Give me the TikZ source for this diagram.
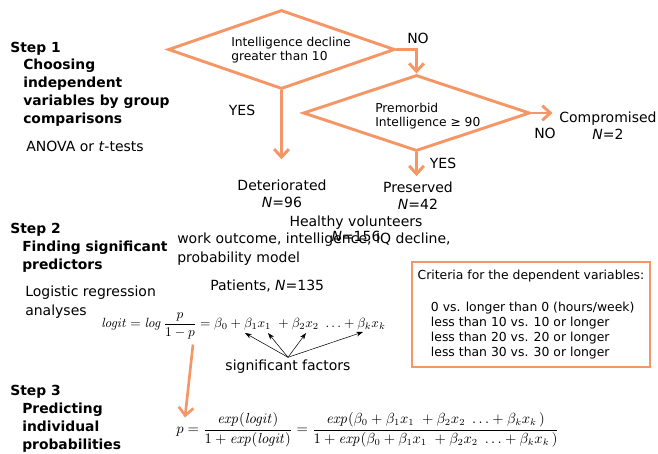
\documentclass[tikz,border=0pt]{standalone}
\usepackage{amsmath}
\usepackage[no-math]{fontspec}
\setmainfont{DejaVu Sans}
\usetikzlibrary{shapes.geometric, arrows.meta, calc}
\definecolor{flow}{RGB}{244,150,102}
\tikzstyle{decision} = [diamond, draw=flow, line width=2.2pt, inner sep=0pt, minimum width=170pt]
\tikzstyle{arrow} = [draw=flow, line width=2.2pt, -{Straight Barb[length=6pt,width=11pt]}]
\tikzstyle{factor} = [thin, -{Stealth[length=5pt,width=3.5pt]}]
\tikzstyle{steptitle} = [anchor=west, inner sep=0pt, font=\bfseries\fontsize{10.4}{13.5}\selectfont]
\tikzstyle{stepbody} = [anchor=west, inner sep=0pt, align=left, font=\bfseries\fontsize{10.4}{13.5}\selectfont]
\tikzstyle{txt} = [inner sep=0pt, align=center, font=\fontsize{10.5}{12.75}\selectfont]
\tikzstyle{dtext} = [anchor=west, inner sep=0pt, align=left, font=\fontsize{9.2}{11}\selectfont]
\tikzstyle{critbox} = [draw=flow, line width=1.9pt, minimum width=178.5pt, minimum height=78.75pt, align=left, inner sep=0pt, font=\fontsize{9.3}{11.25}\selectfont]

\begin{document}
\begin{tikzpicture}[x=0.75pt, y=-0.75pt]
    \useasboundingbox (0,0) rectangle (658,454);
    % step titles and descriptions
    \node (s1) [steptitle] at (10,49) {Step 1};
    \node (s1body) [stepbody] at (23,93) {Choosing\\independent\\variables by group\\comparisons};
    \node (anova) [txt, anchor=west] at (26,146) {ANOVA or \textit{t}-tests};
    \node (s2) [steptitle] at (10,230) {Step 2};
    \node (s2body) [stepbody] at (22,257) {Finding significant\\predictors};
    \node (logreg) [txt, anchor=west, align=left, font=\fontsize{10.5}{14.25}\selectfont] at (25,302.5) {Logistic regression\\analyses};
    \node (s3) [steptitle] at (10,392) {Step 3};
    \node (s3body) [stepbody] at (22,428) {Predicting\\individual\\probabilities};

    % decision tree
    \node (dec1) [decision, minimum height=59.25pt] at (281.5,49.5) {};
    \node (dec1txt) [dtext] at (231,50) {Intelligence decline\\greater than 10};
    \node (dec2) [decision, minimum height=57pt] at (416.5,113) {};
    \node (dec2txt) [dtext] at (375,116) {Premorbid\\Intelligence ≥ 90};
    \node (det) [txt] at (282,193.5) {Deteriorated\\\textit{N}=96};
    \node (pres) [txt] at (418,195.5) {Preserved\\\textit{N}=42};
    \node (comp) [txt] at (608,125.5) {Compromised\\\textit{N}=2};
    \node (yes1) [txt] at (242,110) {YES};
    \node (no1) [txt] at (418,38) {NO};
    \node (yes2) [txt] at (443,163) {YES};
    \node (no2) [txt] at (545,133) {NO};
    \draw [arrow] (dec1.east) -| (dec2.north);
    \draw [arrow, shorten >=15pt] (dec1.south) -- (dec1.south |- det.north);
    \draw [arrow, shorten >=4pt] (dec2.south) -- (dec2.south |- pres.north);
    \draw [arrow, shorten >=5pt] (dec2.east) -- (dec2.east -| comp.west);

    % groups and model
    \node (healthy) [txt, font=\fontsize{10.5}{9.75}\selectfont] at (356,228.5) {Healthy volunteers\\\textit{N}=156};
    \node (outcome) [txt, anchor=west, align=left, font=\fontsize{10.5}{14.25}\selectfont] at (177,249.5) {work outcome, intelligence, IQ decline,\\probability model};
    \node (patients) [txt, anchor=west] at (210,286) {Patients, \textit{N}=135};
    \node (logit) [inner sep=0pt, anchor=west, font=\fontsize{10.3}{12}\selectfont] at (101,326)
        {$\mathit{logit} = \mathit{log}\,\dfrac{p}{1-p} = \beta_0 + \beta_1x_1\ + \beta_2x_2\ \ldots + \beta_kx_k$};
    \node (sig) [txt, inner sep=2pt] at (288,367) {significant factors};
    \coordinate (f0) at (245,333);
    \coordinate (f1) at (268,333);
    \coordinate (f2) at (306,333);
    \coordinate (fk) at (363,332);
    \foreach \f in {f0,f1,f2,fk}
        \draw [factor] (sig.north) -- (\f);

    % individual probabilities
    \node (prob) [inner sep=0pt, anchor=west, font=\fontsize{10.6}{12}\selectfont] at (176,430)
        {$p=\dfrac{\mathit{exp}(\mathit{logit})}{1+\mathit{exp}(\mathit{logit})}=\dfrac{\mathit{exp}(\beta_0+\beta_1x_1\ +\beta_2x_2\ \ldots+\beta_kx_k\,)}{1+\mathit{exp}(\beta_0+\beta_1x_1\ +\beta_2x_2\ \ldots+\beta_kx_k\,)}$};
    \draw [arrow, line width=2pt] ($(logit.south west)+(92,5)$) -- ($(prob.north west)+(9,5)$);

    % criteria
    \node (crit) [critbox] at (531,314.5) {Criteria for the dependent variables:\\[12.75pt]
        \hspace{10pt}0 vs. longer than 0 (hours/week)\\
        \hspace{10pt}less than 10 vs. 10 or longer\\
        \hspace{10pt}less than 20 vs. 20 or longer\\
        \hspace{10pt}less than 30 vs. 30 or longer};
\end{tikzpicture}
\end{document}
